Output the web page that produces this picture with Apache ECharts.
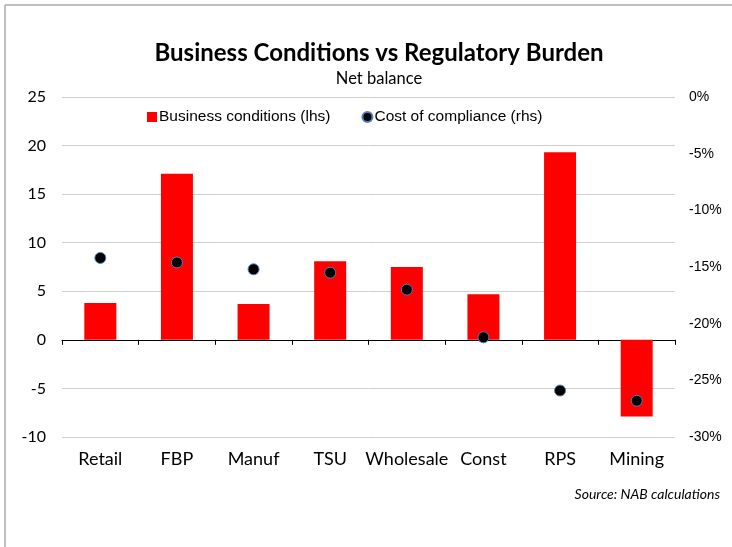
<!DOCTYPE html>
<html><head><meta charset="utf-8">
<script src="https://cdn.jsdelivr.net/npm/echarts@6/dist/echarts.min.js"></script>
<style>html,body{margin:0;padding:0;background:#fff}#c{width:732px;height:547px}</style>
</head><body><div id="c"></div>
<script>
const categories = ['Retail','FBP','Manuf','TSU','Wholesale','Const','RPS','Mining'];
const businessConditions = [3.8, 17.1, 3.7, 8.1, 7.5, 4.7, 19.3, -7.9];
const costOfCompliance = [-14.2, -14.6, -15.2, -15.5, -17.0, -21.2, -25.9, -26.8];
const leftTicks = {min: -10, max: 25, interval: 5};
const rightTicks = {min: -30, max: 0, interval: 5};

const chart = echarts.init(document.getElementById('c'));
const calib = 'Lato, "Open Sans", sans-serif';
const arial = '"Liberation Sans", Arial, sans-serif';
chart.setOption({
  animation: false,
  backgroundColor: '#fff',
  title: [
    {text: 'Business Conditions vs Regulatory Burden', left: 379, top: 41, textAlign: 'center', padding: 0,
     textStyle: {fontFamily: calib, fontWeight: 'bold', fontSize: 24, color: '#000'}},
    {text: 'Net balance', left: 379, top: 70, textAlign: 'center', padding: 0,
     textStyle: {fontFamily: calib, fontWeight: 'normal', fontSize: 16.5, color: '#000'}},
    {text: 'Source: NAB calculations', right: 12, top: 487, padding: 0,
     textStyle: {fontFamily: calib, fontStyle: 'italic', fontWeight: 'normal', fontSize: 14, color: '#000'}}
  ],
  legend: {
    left: 142, top: 104, itemWidth: 10, itemHeight: 10, itemGap: 31,
    textStyle: {fontFamily: arial, fontSize: 15.5, color: '#000', padding: [0,0,0,-3]},
    data: [{name: 'Business conditions (lhs)', icon: 'rect'}, {name: 'Cost of compliance (rhs)', icon: 'circle'}]
  },
  grid: {left: 62, right: 57, top: 97, bottom: 110},
  xAxis: [
    {type: 'category', data: categories,
     axisLine: {onZero: true, onZeroAxisIndex: 0, lineStyle: {color: '#000', width: 1}},
     axisTick: {show: true, interval: 0, length: 5, lineStyle: {color: '#000'}},
     axisLabel: {show: false},
     splitLine: {show: false}},
    {type: 'category', data: categories, position: 'bottom',
     axisLine: {show: false, onZero: false}, axisTick: {show: false},
     axisLabel: {interval: 0, fontFamily: calib, fontSize: 18, color: '#000', margin: 13},
     splitLine: {show: false}}
  ],
  yAxis: [
    {type: 'value', min: leftTicks.min, max: leftTicks.max, interval: leftTicks.interval,
     axisLine: {show: false}, axisTick: {show: false},
     axisLabel: {fontFamily: calib, fontSize: 16, color: '#000', margin: 16},
     splitLine: {lineStyle: {color: '#d0d0d0', width: 1}}},
    {type: 'value', position: 'right', min: rightTicks.min, max: rightTicks.max, interval: rightTicks.interval,
     axisLine: {show: false}, axisTick: {show: false},
     axisLabel: {fontFamily: arial, fontSize: 14, color: '#000', margin: 14,
       formatter: v => v + '%'},
     splitLine: {show: false}}
  ],
  series: [
    {name: 'Business conditions (lhs)', type: 'bar', xAxisIndex: 0, yAxisIndex: 0, data: businessConditions,
     barWidth: 32, itemStyle: {color: '#ff0000'}},
    {name: 'Cost of compliance (rhs)', type: 'scatter', xAxisIndex: 0, yAxisIndex: 1, data: costOfCompliance,
     symbolSize: 11, itemStyle: {color: '#000', opacity: 1, borderColor: '#4f81bd', borderWidth: 1}}
  ],
  graphic: [
    {type: 'line', shape: {x1: 5, y1: 5, x2: 732, y2: 5}, style: {stroke: '#bfbfbf', lineWidth: 2}},
    {type: 'line', shape: {x1: 5, y1: 5, x2: 5, y2: 547}, style: {stroke: '#bfbfbf', lineWidth: 2}}
  ]
});
</script></body></html>
